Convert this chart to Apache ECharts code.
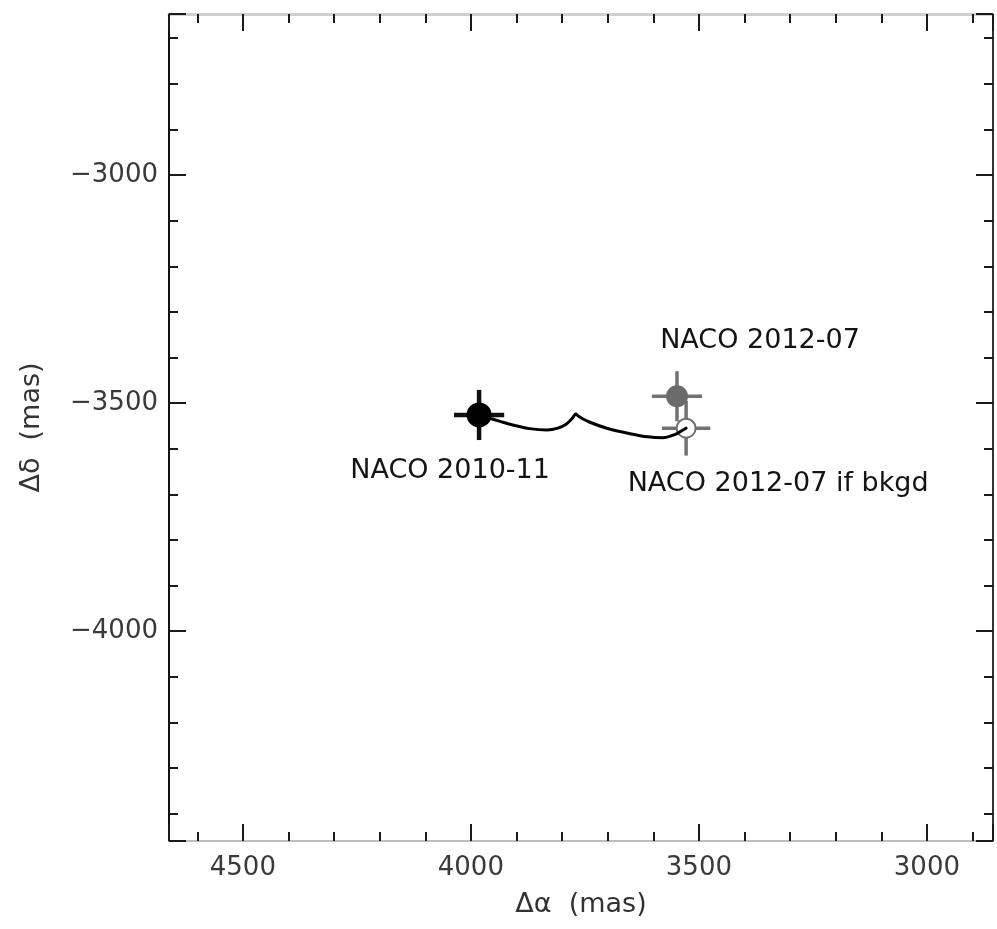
<!DOCTYPE html>
<html><head><meta charset="utf-8">
<script src="https://cdn.jsdelivr.net/npm/echarts@6/dist/echarts.min.js"></script>
<style>html,body{margin:0;padding:0;background:#fff}#c{width:997px;height:929px}</style>
</head><body><div id="c"></div>
<script>
// ---- data (mas) ----
const xExtent = [2855, 4662];          // Δα axis range (drawn inverted)
const yExtent = [-4460, -2647];        // Δδ axis range
const xTickLabels = [3000, 3500, 4000, 4500];
const yTickLabels = [-4000, -3500, -3000];
const epochs = ['NACO 2010-11', 'NACO 2012-07', 'NACO 2012-07 if bkgd'];
const raOffsets = [3982, 3548, 3528];
const decOffsets = [-3526, -3485, -3555];
const raErrors = [55, 55, 53];
const decErrors = [55, 55, 60];
// background-star track (proper motion + parallax) from 2010-11 to 2012-07
const trackRa  = [3982, 3963, 3936, 3908, 3871, 3833, 3809, 3792, 3781, 3775, 3770, 3765, 3759, 3739, 3702, 3651, 3612, 3579, 3553, 3540, 3528];
const trackDec = [-3526, -3532, -3540, -3548, -3556, -3559, -3555, -3547, -3537, -3530, -3524, -3528, -3532, -3542, -3555, -3567, -3574, -3576, -3569, -3562, -3555];

// ---- styles ----
const pointStyles = [
  {fill: '#000000', stroke: '#000000', bar: '#111111', barWidth: 4.5, size: 23, off: [-29, 56]},
  {fill: '#6b6b6b', stroke: '#6b6b6b', bar: '#727272', barWidth: 3.5, size: 20, off: [83, -55]},
  {fill: '#ffffff', stroke: '#6e6e6e', bar: '#727272', barWidth: 3.5, size: 19, off: [92, 56]}
];
const font = 'DejaVu Sans';
const inkTick = '#1a1a1a';

const chart = echarts.init(document.getElementById('c'));

function xAxisDef(pos, showLabel, lineColor, lineWidth) {
  return {
    type: 'value', position: pos, inverse: true,
    min: xExtent[0], max: xExtent[1], minInterval: 500, maxInterval: 500,
    axisLine: {show: true, lineStyle: {color: lineColor, width: lineWidth}},
    axisTick: {show: true, inside: true, length: 17, lineStyle: {color: inkTick, width: 2}},
    minorTick: {show: true, splitNumber: 5, length: 9, lineStyle: {color: inkTick, width: 2}},
    splitLine: {show: false},
    axisLabel: {show: showLabel, margin: 14, color: '#3a3a3a', fontFamily: font, fontSize: 26,
      formatter: v => xTickLabels.includes(v) ? String(v) : ''},
    name: showLabel ? 'Δα  (mas)' : '', nameLocation: 'middle', nameGap: 50,
    nameTextStyle: {color: '#333', fontFamily: font, fontSize: 27}
  };
}
function yAxisDef(pos, showLabel, lineColor, lineWidth) {
  return {
    type: 'value', position: pos,
    min: yExtent[0], max: yExtent[1], minInterval: 500, maxInterval: 500,
    axisLine: {show: true, lineStyle: {color: lineColor, width: lineWidth}},
    axisTick: {show: true, inside: true, length: 17, lineStyle: {color: inkTick, width: 2}},
    minorTick: {show: true, splitNumber: 5, length: 9, lineStyle: {color: inkTick, width: 2}},
    splitLine: {show: false},
    axisLabel: {show: showLabel, margin: 11, color: '#3a3a3a', fontFamily: font, fontSize: 26,
      formatter: v => yTickLabels.includes(v) ? '\u2212' + Math.abs(v) : ''},
    name: showLabel ? 'Δδ  (mas)' : '', nameLocation: 'middle', nameGap: 124, nameRotate: 90,
    nameTextStyle: {color: '#333', fontFamily: font, fontSize: 27}
  };
}

const barData = raOffsets.map((x, i) => [x, decOffsets[i], raErrors[i], decErrors[i], i]);

chart.setOption({
  animation: false,
  backgroundColor: '#ffffff',
  grid: {left: 169, right: 4, top: 14, bottom: 88, containLabel: false},
  xAxis: [xAxisDef('bottom', true, '#bdbdbd', 2), xAxisDef('top', false, '#cfcfcf', 3)],
  yAxis: [yAxisDef('left', true, '#111111', 2), yAxisDef('right', false, '#333333', 2)],
  series: [
    {
      type: 'custom', z: 2, silent: true,
      data: barData,
      renderItem: function (params, api) {
        const x = api.value(0), y = api.value(1), ex = api.value(2), ey = api.value(3);
        const st = pointStyles[api.value(4)];
        const l = api.coord([x + ex, y]), r = api.coord([x - ex, y]);
        const t = api.coord([x, y + ey]), b = api.coord([x, y - ey]);
        const style = {stroke: st.bar, lineWidth: st.barWidth};
        return {type: 'group', children: [
          {type: 'line', shape: {x1: l[0], y1: l[1], x2: r[0], y2: r[1]}, style: style},
          {type: 'line', shape: {x1: t[0], y1: t[1], x2: b[0], y2: b[1]}, style: style}
        ]};
      }
    },
    {
      type: 'scatter', z: 3, symbol: 'circle',
      data: raOffsets.map((x, i) => ({
        value: [x, decOffsets[i]],
        symbolSize: pointStyles[i].size,
        itemStyle: {color: pointStyles[i].fill, borderColor: pointStyles[i].stroke, borderWidth: 2, opacity: 1},
        label: {show: true, position: 'inside', offset: pointStyles[i].off, formatter: epochs[i],
          color: '#141414', fontFamily: font, fontSize: 27}
      }))
    },
    {
      type: 'line', z: 4, symbol: 'none', smooth: 0.35,
      data: trackRa.map((x, i) => [x, trackDec[i]]),
      lineStyle: {color: '#000000', width: 3, join: 'round', cap: 'round'}
    }
  ]
});
</script></body></html>
